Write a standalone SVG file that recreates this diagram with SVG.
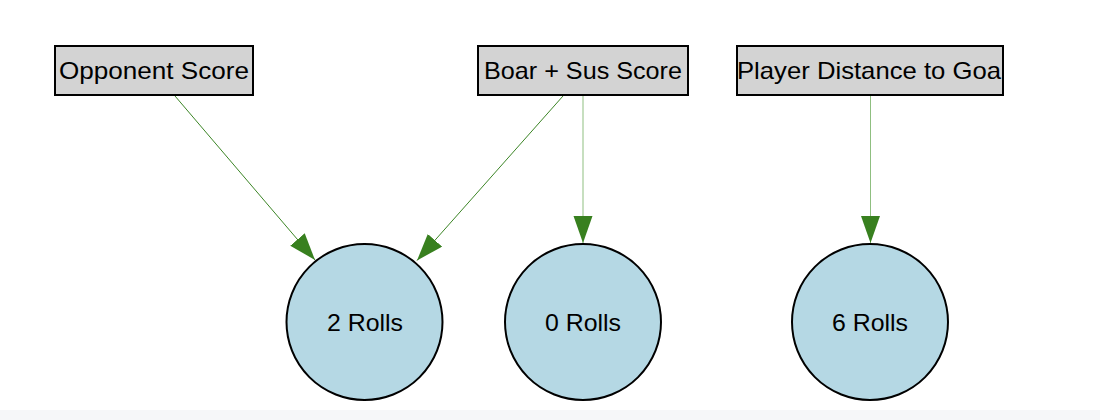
<svg xmlns="http://www.w3.org/2000/svg" width="1100" height="420" viewBox="0 0 1100 420">
  <style>
    .box { fill: #d3d3d3; stroke: #000; stroke-width: 2; }
    .circ { fill: #b5d8e4; stroke: #000; stroke-width: 2; }
    .lbl { font-family: "Liberation Sans", Arial, sans-serif; font-size: 24px; fill: #000; text-anchor: middle; }
    .edge { stroke: #3c8526; stroke-width: 1; fill: none; marker-end: url(#arrow); }
    .edge.v { stroke: #8fbf80; }
  </style>
  <defs>
    <marker id="arrow" markerUnits="userSpaceOnUse" markerWidth="28" markerHeight="20" refX="27" refY="9.5" orient="auto">
      <path d="M0,0 L27,9.5 L0,19 Z" fill="#38801f"/>
    </marker>
    <clipPath id="clipPlayer">
      <rect x="738" y="46" width="265" height="49"/>
    </clipPath>
  </defs>
  <rect x="0" y="0" width="1100" height="420" fill="#ffffff"/>
  <rect x="0" y="410" width="1100" height="10" fill="#f6f7f9"/>

  <g id="connectors">
    <line class="edge" x1="175" y1="96" x2="315" y2="260"/>
    <line class="edge" x1="563" y1="96" x2="417" y2="260.5"/>
    <line class="edge v" x1="583" y1="96" x2="583" y2="243"/>
    <line class="edge v" x1="870.5" y1="96" x2="870.5" y2="243"/>
  </g>

  <g id="opponent-score">
    <rect class="box" x="55" y="46" width="198" height="49"/>
    <text class="lbl" x="154" y="79" textLength="190" lengthAdjust="spacingAndGlyphs">Opponent Score</text>
  </g>
  <g id="boar-sus-score">
    <rect class="box" x="478" y="46" width="210" height="49"/>
    <text class="lbl" x="583" y="79" textLength="198" lengthAdjust="spacingAndGlyphs">Boar + Sus Score</text>
  </g>
  <g id="player-distance">
    <rect class="box" x="737" y="46" width="266" height="49"/>
    <text class="lbl" x="869" y="79" clip-path="url(#clipPlayer)" textLength="264" lengthAdjust="spacingAndGlyphs">Player Distance to Goa</text>
  </g>

  <g id="two-rolls">
    <circle class="circ" cx="364.5" cy="322" r="78"/>
    <text class="lbl" x="365" y="330.5" textLength="76" lengthAdjust="spacingAndGlyphs">2 Rolls</text>
  </g>
  <g id="zero-rolls">
    <circle class="circ" cx="583" cy="322" r="78"/>
    <text class="lbl" x="583" y="330.5" textLength="76" lengthAdjust="spacingAndGlyphs">0 Rolls</text>
  </g>
  <g id="six-rolls">
    <circle class="circ" cx="870" cy="322" r="78"/>
    <text class="lbl" x="870" y="330.5" textLength="76" lengthAdjust="spacingAndGlyphs">6 Rolls</text>
  </g>
</svg>
